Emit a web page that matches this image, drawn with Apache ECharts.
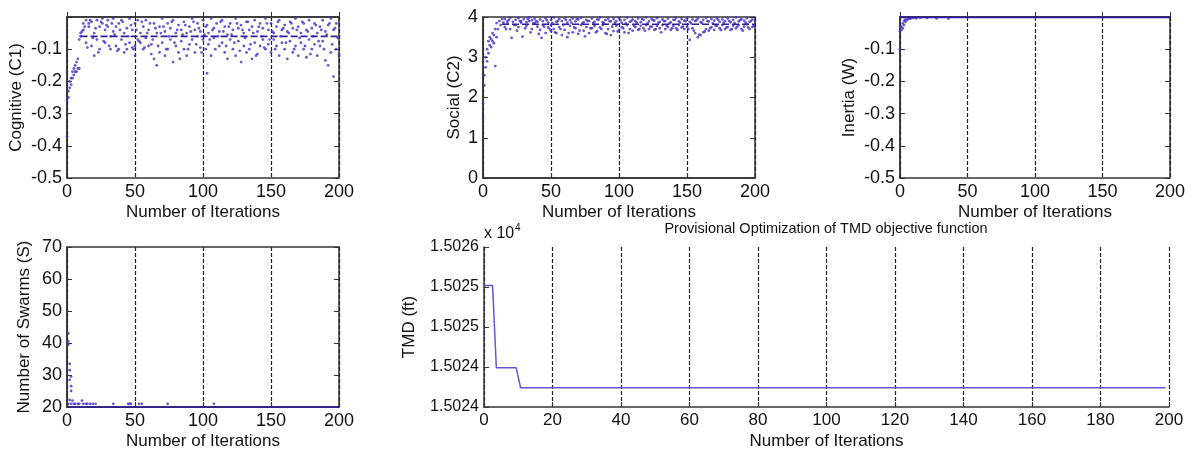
<!DOCTYPE html>
<html>
<head>
<meta charset="utf-8">
<script src="https://cdn.jsdelivr.net/npm/echarts@6/dist/echarts.min.js"></script>
<style>
  html, body { margin: 0; padding: 0; background: #fff; }
  #chart { width: 1193px; height: 453px; }
</style>
</head>
<body>
<div id="chart"></div>
<script>
// particle values per iteration
const c1Points = [
  [0,-0.37],[0,-0.26],[1,-0.25],[1,-0.23],[2,-0.22],[2,-0.2],[3,-0.21],[3,-0.19],[4,-0.19],[4,-0.17],
  [5,-0.18],[5,-0.16],[6,-0.17],[6,-0.15],[7,-0.17],[7,-0.14],[8,-0.16],[8,-0.13],[9,-0.16],[9,-0.07],
  [10,-0.06],[10,-0.05],[12,-0.02],[12,-0.04],[14,-0.01],[14,-0.08],[16,-0.03],[16,-0.02],[18,-0.015],[18,-0.09],
  [20,-0.05],[20,-0.12],[22,-0.01],[22,-0.07],[24,-0.03],[24,-0.1],[26,-0.02],[26,-0.005],[28,-0.04],[28,-0.08],
  [30,-0.01],[30,-0.03],[32,-0.06],[32,-0.1],[34,-0.005],[34,-0.045],[36,-0.03],[36,-0.09],[38,-0.02],[38,-0.1],
  [40,-0.01],[40,-0.07],[42,-0.05],[42,-0.11],[44,-0.035],[44,-0.1],[46,-0.005],[46,-0.08],[48,-0.04],[48,-0.095],
  [50,-0.02],[50,-0.09],[50,-0.12],[52,-0.01],[52,-0.07],[54,-0.05],[54,-0.08],[56,-0.03],[56,-0.1],[58,-0.01],
  [58,-0.065],[60,-0.04],[60,-0.09],[62,-0.085],[62,-0.115],[64,-0.02],[64,-0.13],[66,-0.05],[66,-0.15],[68,-0.03],
  [68,-0.11],[70,-0.005],[70,-0.08],[72,-0.045],[72,-0.12],[74,-0.02],[74,-0.1],[76,-0.035],[76,-0.07],[78,-0.01],
  [78,-0.14],[80,-0.05],[80,-0.09],[82,-0.025],[82,-0.11],[84,-0.04],[84,-0.075],[86,-0.015],[86,-0.1],[88,-0.05],
  [88,-0.12],[90,-0.03],[90,-0.085],[92,-0.005],[92,-0.07],[94,-0.04],[94,-0.11],[96,-0.02],[96,-0.06],[98,-0.045],
  [98,-0.095],[100,-0.01],[100,-0.07],[102,-0.03],[102,-0.1],[104,-0.05],[104,-0.085],[106,-0.005],[106,-0.12],[108,-0.035],
  [108,-0.065],[103,-0.175],[110,-0.02],[112,-0.045],[112,-0.09],[114,-0.01],[114,-0.08],[116,-0.03],[116,-0.11],[118,-0.055],
  [118,-0.13],[120,-0.02],[120,-0.07],[122,-0.04],[122,-0.1],[124,-0.005],[124,-0.12],[126,-0.035],[126,-0.075],[128,-0.025],
  [128,-0.14],[130,-0.05],[130,-0.09],[132,-0.015],[132,-0.11],[134,-0.04],[134,-0.1],[136,-0.03],[136,-0.13],[138,-0.01],
  [138,-0.08],[140,-0.045],[140,-0.115],[142,-0.02],[142,-0.09],[144,-0.035],[144,-0.07],[146,-0.005],[146,-0.1],[148,-0.04],
  [148,-0.085],[150,-0.02],[150,-0.11],[152,-0.05],[152,-0.07],[154,-0.03],[154,-0.09],[156,-0.01],[156,-0.12],[158,-0.04],
  [158,-0.08],[160,-0.025],[160,-0.1],[162,-0.045],[162,-0.13],[164,-0.015],[164,-0.075],[166,-0.035],[166,-0.11],[168,-0.005],
  [168,-0.09],[170,-0.03],[170,-0.12],[172,-0.05],[172,-0.08],[174,-0.02],[174,-0.1],[176,-0.04],[176,-0.125],[178,-0.01],
  [178,-0.07],[180,-0.035],[180,-0.1],[182,-0.02],[182,-0.085],[184,-0.05],[184,-0.12],[186,-0.03],[186,-0.09],[188,-0.01],
  [188,-0.075],[190,-0.045],[190,-0.135],[192,-0.025],[192,-0.15],[194,-0.005],[194,-0.11],[196,-0.04],[196,-0.185],[198,-0.02],
  [198,-0.1],[200,-0.12],
  [11,-0.045],[13,-0.03],[15,-0.095],[17,-0.01],[19,-0.065],[21,-0.035],[23,-0.11],[25,-0.015],[27,-0.075],[29,-0.025],
  [31,-0.09],[33,-0.02],[35,-0.055],[37,-0.105],[39,-0.04],[41,-0.015],[43,-0.085],[45,-0.06],[47,-0.025],[49,-0.1],
  [51,-0.04],[53,-0.075],[55,-0.015],[57,-0.095],[59,-0.05],[61,-0.02],[63,-0.07],[65,-0.035],[67,-0.09],[69,-0.05],
  [71,-0.03],[73,-0.1],[75,-0.06],[77,-0.015],[79,-0.08],[81,-0.04],[83,-0.13],[85,-0.055],[87,-0.025],[89,-0.1],
  [91,-0.045],[93,-0.015],[95,-0.085],[97,-0.035],[99,-0.11],[101,-0.055],[103,-0.025],[105,-0.07],[107,-0.04],[109,-0.1],
  [111,-0.06],[113,-0.015],[115,-0.045],[117,-0.09],[119,-0.03],[121,-0.055],[123,-0.08],[125,-0.02],[127,-0.105],[129,-0.04],
  [131,-0.065],[133,-0.015],[135,-0.085],[137,-0.05],[139,-0.12],[141,-0.03],[143,-0.06],[145,-0.095],[147,-0.02],[149,-0.07],
  [151,-0.045],[153,-0.1],[155,-0.015],[157,-0.06],[159,-0.035],[161,-0.08],[163,-0.05],[165,-0.02],[167,-0.1],[169,-0.04],
  [171,-0.065],[173,-0.015],[175,-0.09],[177,-0.045],[179,-0.115],[181,-0.06],[183,-0.025],[185,-0.075],[187,-0.04],[189,-0.1],
  [191,-0.055],[193,-0.02],[195,-0.085],[197,-0.035],[199,-0.065]
];
const c1Best = [[10,-0.06],[200,-0.06]];

const c2Points = [
  [0,1.5],[0,1.85],[1,2.3],[1,2.55],[2,2.75],[2,3.0],[3,2.9],[3,3.2],[4,3.1],[4,3.4],
  [5,3.3],[5,3.5],[6,3.25],[6,3.45],[7,3.4],[7,3.6],[8,3.35],[8,3.55],[9,2.78],[9,3.7],
  [10,3.5],[10,3.85],[11,3.7],[12,3.9],[13,3.8],[14,3.95],[16,3.95],[16,3.75],[18,3.9],[18,3.85],
  [20,3.98],[20,3.7],[21,3.48],[22,3.88],[24,3.93],[24,3.8],[26,3.97],[26,3.75],[28,3.9],[28,3.86],
  [29,3.51],[30,3.95],[32,3.87],[32,3.78],[34,3.99],[34,3.9],[36,3.92],[36,3.7],[38,3.96],[38,3.85],
  [40,3.88],[40,3.76],[42,3.94],[42,3.68],[43,3.48],[44,3.9],[44,3.8],[46,3.97],[46,3.6],[48,3.86],
  [48,3.74],[50,3.93],[50,3.8],[50,3.65],[52,3.99],[52,3.7],[54,3.88],[54,3.6],[56,3.95],[56,3.75],
  [58,3.9],[58,3.55],[60,3.97],[60,3.68],[62,3.86],[62,3.5],[64,3.92],[64,3.78],[66,3.96],[66,3.62],
  [68,3.89],[68,3.72],[70,3.94],[70,3.58],[72,3.98],[72,3.8],[74,3.87],[74,3.66],[76,3.93],[76,3.75],
  [78,3.9],[78,3.6],[80,3.96],[80,3.72],[82,3.88],[82,3.78],[84,3.94],[84,3.65],[86,3.99],[86,3.74],
  [88,3.87],[88,3.8],[90,3.92],[90,3.6],[92,3.96],[92,3.7],[94,3.89],[94,3.55],[96,3.95],[96,3.65],
  [98,3.9],[98,3.78],[100,3.97],[100,3.68],[102,3.86],[102,3.75],[104,3.93],[104,3.62],[106,3.98],[106,3.8],
  [108,3.88],[108,3.7],[110,3.94],[110,3.66],[112,3.9],[112,3.75],[114,3.96],[114,3.68],[116,3.87],[116,3.78],
  [118,3.93],[118,3.72],[120,3.99],[120,3.8],[122,3.89],[122,3.7],[124,3.95],[124,3.76],[126,3.91],[126,3.68],
  [128,3.97],[128,3.78],[130,3.88],[130,3.72],[132,3.94],[132,3.8],[134,3.9],[134,3.7],[136,3.96],[136,3.75],
  [138,3.87],[138,3.68],[140,3.93],[140,3.78],[142,3.98],[142,3.72],[144,3.89],[144,3.8],[146,3.95],[146,3.74],
  [148,3.91],[148,3.7],[150,3.97],[150,3.76],[152,3.88],[152,3.43],[154,3.94],[154,3.72],[156,3.9],[156,3.6],
  [158,3.96],[158,3.5],[160,3.87],[160,3.55],[162,3.93],[162,3.62],[164,3.98],[164,3.7],[166,3.89],[166,3.66],
  [168,3.95],[168,3.75],[170,3.91],[170,3.68],[172,3.97],[172,3.78],[174,3.88],[174,3.72],[176,3.94],[176,3.8],
  [178,3.9],[178,3.7],[180,3.96],[180,3.75],[182,3.87],[182,3.68],[184,3.93],[184,3.78],[186,3.99],[186,3.72],
  [188,3.89],[188,3.8],[190,3.95],[190,3.7],[192,3.91],[192,3.76],[194,3.97],[194,3.82],[196,3.88],[196,3.7],
  [198,3.94],[198,3.75],[200,3.9],
  [15,3.86],[17,3.7],[19,3.93],[23,3.8],[25,3.66],[27,3.9],[31,3.72],[33,3.95],[35,3.62],[37,3.84],
  [39,3.9],[41,3.58],[45,3.76],[47,3.92],[49,3.7],[51,3.85],[53,3.62],[55,3.9],[57,3.7],[59,3.8],
  [61,3.93],[63,3.6],[65,3.86],[67,3.74],[69,3.95],[71,3.66],[73,3.84],[75,3.52],[77,3.9],[79,3.72],
  [81,3.85],[83,3.62],[85,3.93],[87,3.7],[89,3.84],[91,3.58],[93,3.9],[95,3.76],[97,3.86],[99,3.64],
  [101,3.92],[103,3.72],[105,3.84],[107,3.6],[109,3.9],[111,3.78],[113,3.86],[115,3.7],[117,3.95],[119,3.66],
  [121,3.84],[123,3.76],[125,3.92],[127,3.7],[129,3.86],[131,3.62],[133,3.9],[135,3.78],[137,3.84],[139,3.72],
  [141,3.93],[143,3.68],[145,3.86],[147,3.76],[149,3.9],[151,3.7],[153,3.84],[155,3.66],[157,3.92],[159,3.56],
  [161,3.86],[163,3.64],[165,3.9],[167,3.72],[169,3.84],[171,3.78],[173,3.93],[175,3.68],[177,3.86],[179,3.74],
  [181,3.9],[183,3.7],[185,3.85],[187,3.76],[189,3.92],[191,3.66],[193,3.86],[195,3.74],[197,3.9],[199,3.78]
];
const c2Best = [[14,3.82],[200,3.82]];

const wPoints = [
  [0,-0.1],[0,-0.045],[1,-0.04],[1,-0.03],[2,-0.035],[2,-0.02],[3,-0.025],[3,-0.012],[4,-0.015],[4,-0.008],
  [5,-0.01],[6,-0.006],[7,-0.004],[8,-0.005],[10,-0.003],[12,-0.004],[15,-0.002],[20,-0.003],[27,-0.004],[36,-0.005]
];
const wBest = [[0,-0.001],[200,-0.001]];

const sPoints = [
  [1,43],[1,40.5],[1,39.5],[2,33.5],[2,31.5],[3,29.5],[2,28.5],[3,26.5],[3,25],[2,22.2],
  [4,22],[11,22],[1,21],[3,21],[5,21],[6,21],[8,21],[9,21],[12,21],[14,21],
  [15,21],[17,21],[19,21],[21,21],[34,21],[45,21],[46,21],[47,21],[53,21],[55,21],
  [74,21],[108,21]
];
const sBest = [[0,20],[200,20]];

const tmdPoints = [[0,15025.52],[2.5,15025.52],[3.6,15024.49],[9.4,15024.49],[10.7,15024.24],[199,15024.24]];
const tmdTickLabels = ['1.5024','1.5024','1.5025','1.5025','1.5026'];

const FONT = "'Liberation Sans', Arial, sans-serif";
const INK = '#111';
const DOT = '#4a2cc6';

const chart = echarts.init(document.getElementById('chart'));

const panels = [
  {grid: {left: 67, top: 17, width: 272, height: 161}, name: 'Cognitive (C1)', gap: 42,
   min: -0.5, max: 0, step: 0.1, fmt: v => v === 0 ? '' : v.toFixed(1), box: true, xStep: 50},
  {grid: {left: 483, top: 17, width: 272, height: 161}, name: 'Social (C2)', gap: 20,
   min: 0, max: 4, step: 1, fmt: v => String(v), box: true, xStep: 50},
  {grid: {left: 900, top: 17, width: 270, height: 161}, name: 'Inertia (W)', gap: 42,
   min: -0.5, max: 0, step: 0.1, fmt: v => v === 0 ? '' : v.toFixed(1), box: true, xStep: 50},
  {grid: {left: 67, top: 247, width: 272, height: 160}, name: 'Number of Swarms (S)', gap: 34,
   min: 20, max: 70, step: 10, fmt: v => String(v), box: true, xStep: 50},
  {grid: {left: 484, top: 247, width: 685, height: 160}, name: 'TMD (ft)', gap: 66,
   min: 15024, max: 15026, step: 0.5, fmt: v => tmdTickLabels[Math.round((v - 15024) / 0.5)], box: false, xStep: 20, small: true}
];

const grids = [], xAxes = [], yAxes = [];
panels.forEach((p, i) => {
  grids.push(Object.assign({
    show: p.box, borderColor: '#333', borderWidth: 1.5, backgroundColor: 'transparent'
  }, p.grid));
  xAxes.push({
    type: 'value', gridIndex: i, min: 0, max: 200, interval: p.xStep,
    name: 'Number of Iterations', nameLocation: 'middle', nameGap: 26,
    nameTextStyle: {fontFamily: FONT, fontSize: 17, color: INK},
    axisLine: {show: true, lineStyle: {color: '#333', width: 1.5}},
    axisTick: {show: true, inside: true, length: 5, lineStyle: {color: '#333'}},
    axisLabel: {fontFamily: FONT, fontSize: p.small ? 17 : 18, color: INK, margin: 5},
    splitLine: {show: true, lineStyle: {color: '#222', width: 1.2, type: [4, 2]}}
  });
  yAxes.push({
    type: 'value', gridIndex: i, min: p.min, max: p.max, interval: p.step,
    name: p.name, nameLocation: 'middle', nameGap: p.gap, nameRotate: 90,
    nameTextStyle: {fontFamily: FONT, fontSize: 17, color: INK},
    axisLine: {show: true, lineStyle: {color: '#333', width: 1.5}},
    axisTick: {show: true, inside: true, length: 5, lineStyle: {color: '#333'}},
    axisLabel: {fontFamily: FONT, fontSize: p.small ? 16 : 18, color: INK, margin: 5, formatter: p.fmt},
    splitLine: {show: false}
  });
});
// mirrored inward ticks on the right edge of the boxed panels
panels.slice(0, 4).forEach((p, i) => {
  yAxes.push({
    type: 'value', gridIndex: i, position: 'right', min: p.min, max: p.max, interval: p.step,
    axisLine: {show: false}, axisLabel: {show: false}, splitLine: {show: false},
    axisTick: {show: true, inside: true, length: 5, lineStyle: {color: '#333'}}
  });
});

const dots = (i, data) => ({
  type: 'scatter', xAxisIndex: i, yAxisIndex: i, data: data,
  symbol: 'circle', symbolSize: 2.8, itemStyle: {color: DOT}, clip: false, z: 3
});
const best = (i, data, dashed) => ({
  type: 'line', xAxisIndex: i, yAxisIndex: i, data: data, symbol: 'none', clip: false, z: 4,
  lineStyle: {color: '#2f1f9e', width: 1.7, type: dashed ? [7, 3] : 'solid'}
});

chart.setOption({
  animation: false,
  grid: grids,
  xAxis: xAxes,
  yAxis: yAxes,
  series: [
    dots(0, c1Points), best(0, c1Best, true),
    dots(1, c2Points), best(1, c2Best, true),
    dots(2, wPoints), best(2, wBest, false),
    dots(3, sPoints), best(3, sBest, false),
    {type: 'line', xAxisIndex: 4, yAxisIndex: 4, data: tmdPoints, symbol: 'none',
     lineStyle: {color: '#6a52d6', width: 1.5}, z: 4}
  ],
  graphic: [
    {type: 'text', x: 826, y: 229, style: {text: 'Provisional Optimization of TMD objective function',
      font: '14.5px ' + FONT, fill: INK, textAlign: 'center', textVerticalAlign: 'middle'}},
    {type: 'text', x: 484, y: 234, style: {text: 'x 10', font: '16px ' + FONT, fill: INK,
      textAlign: 'left', textVerticalAlign: 'middle'}},
    {type: 'text', x: 515, y: 228, style: {text: '4', font: '10px ' + FONT, fill: INK,
      textAlign: 'left', textVerticalAlign: 'middle'}}
  ]
});
</script>
</body>
</html>
